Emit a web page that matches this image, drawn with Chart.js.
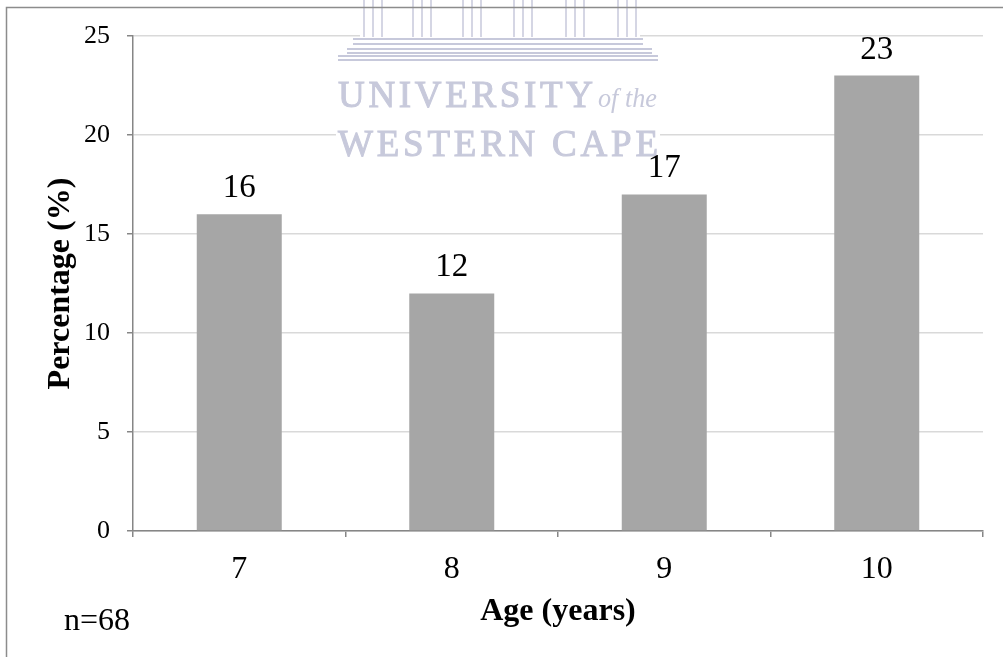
<!DOCTYPE html>
<html>
<head>
<meta charset="utf-8">
<script src="https://cdn.jsdelivr.net/npm/chart.js@4/dist/chart.umd.min.js"></script>
<style>
html,body{margin:0;padding:0;background:#fff;}
#wrap{width:1003px;height:657px;position:relative;}
</style>
</head>
<body>
<div id="wrap"><canvas id="c" width="1003" height="657"></canvas></div>
<script>
const categories = ['7', '8', '9', '10'];
const percentages = [16, 12, 17, 23];
const yTicks = [0, 5, 10, 15, 20, 25];
const xTitle = 'Age (years)';
const yTitle = 'Percentage (%)';
const note = 'n=68';
const watermarkLines = ['UNIVERSITY', 'of the', 'WESTERN CAPE'];

const SERIF = '"Liberation Serif", "Times New Roman", serif';
const AXIS = '#868686';
const WM = '#c7c9db';

function spacedText(ctx, str, x0, x1, y) {
  const chars = str.split('');
  const widths = chars.map(ch => ctx.measureText(ch).width);
  const total = widths.reduce((a, b) => a + b, 0);
  const gap = chars.length > 1 ? (x1 - x0 - total) / (chars.length - 1) : 0;
  let x = x0;
  chars.forEach((ch, i) => {
    ctx.fillText(ch, x, y);
    ctx.strokeText(ch, x, y);
    x += widths[i] + gap;
  });
}

const watermark = {
  id: 'watermark',
  beforeDatasetsDraw(chart) {
    const ctx = chart.ctx;
    ctx.save();
    ctx.fillStyle = '#fff';
    ctx.fillRect(360, 0, 280, 38);
    ctx.fillRect(336, 38, 324, 124);
    ctx.strokeStyle = WM;
    ctx.lineWidth = 1.5;
    // pillars
    const cols = [363, 412, 462, 513, 565, 617];
    cols.forEach(cx => {
      [0, 9, 18].forEach(dx => {
        ctx.beginPath(); ctx.moveTo(cx + dx + 1, 0); ctx.lineTo(cx + dx + 1, 37); ctx.stroke();
      });
    });
    // steps
    ctx.lineWidth = 2;
    [[39, 353, 643], [44, 353, 643], [49, 347, 652], [53, 347, 652], [56, 338, 658], [60, 338, 658]].forEach(s => {
      ctx.beginPath(); ctx.moveTo(s[1], s[0]); ctx.lineTo(s[2], s[0]); ctx.stroke();
    });
    ctx.fillStyle = WM;
    ctx.strokeStyle = WM;
    ctx.lineWidth = 1;
    ctx.textBaseline = 'alphabetic';
    ctx.textAlign = 'left';
    ctx.font = '37px ' + SERIF;
    spacedText(ctx, watermarkLines[0], 338, 593, 107);
    ctx.font = 'italic 28px ' + SERIF;
    ctx.fillText(watermarkLines[1], 598, 107, 59);
    ctx.font = '37px ' + SERIF;
    spacedText(ctx, watermarkLines[2], 338, 658, 156);
    ctx.restore();
  },
  afterDatasetsDraw(chart) {
    const ctx = chart.ctx;
    ctx.save();
    ctx.fillStyle = '#000';
    ctx.font = '33px ' + SERIF;
    ctx.textAlign = 'center';
    ctx.textBaseline = 'alphabetic';
    const meta = chart.getDatasetMeta(0);
    meta.data.forEach((bar, i) => {
      ctx.fillText(String(chart.data.datasets[0].data[i]), bar.x, bar.y - 17);
    });
    ctx.font = '32px ' + SERIF;
    ctx.textAlign = 'left';
    ctx.fillText(note, 64, 630);
    ctx.restore();
  },
  afterDraw(chart) {
    const ctx = chart.ctx;
    ctx.save();
    ctx.strokeStyle = '#8c8c8c';
    ctx.lineWidth = 1.5;
    ctx.beginPath();
    ctx.moveTo(6.5, 657);
    ctx.lineTo(6.5, 7.5);
    ctx.lineTo(1003, 7.5);
    ctx.stroke();
    ctx.restore();
  }
};

new Chart(document.getElementById('c'), {
  type: 'bar',
  data: {
    labels: categories,
    datasets: [{
      data: percentages,
      backgroundColor: '#a6a6a6',
      borderWidth: 0,
      barPercentage: 0.4,
      categoryPercentage: 1.0
    }]
  },
  options: {
    responsive: false,
    animation: false,
    devicePixelRatio: 1,
    layout: { padding: { top: 36, right: 20, left: 0, bottom: 0 } },
    plugins: { legend: { display: false }, tooltip: { enabled: false } },
    scales: {
      x: {
        offset: true,
        grid: { offset: true, drawOnChartArea: false, tickLength: 6, tickColor: AXIS, lineWidth: 1.5 },
        border: { color: AXIS, width: 1.5 },
        ticks: { color: '#000', font: { family: SERIF, size: 32 }, padding: 13 },
        title: { display: true, text: xTitle, color: '#000', font: { family: SERIF, size: 32, weight: 'bold' }, padding: { top: 0, bottom: 26 } },
        afterFit(s) { s.height = 126; }
      },
      y: {
        min: 0, max: 25,
        afterBuildTicks(s) { s.ticks = yTicks.map(v => ({ value: v })); },
        grid: { color: '#d9d9d9', lineWidth: 1.5, tickLength: 6, tickColor: AXIS },
        border: { color: AXIS, width: 1.5 },
        ticks: { color: '#000', font: { family: SERIF, size: 26 }, padding: 17 },
        title: { display: true, text: yTitle, color: '#000', font: { family: SERIF, size: 32, weight: 'bold' }, padding: { top: 42, bottom: 0 } },
        afterFit(s) { s.width = 133; }
      }
    }
  },
  plugins: [watermark]
});
</script>
</body>
</html>
